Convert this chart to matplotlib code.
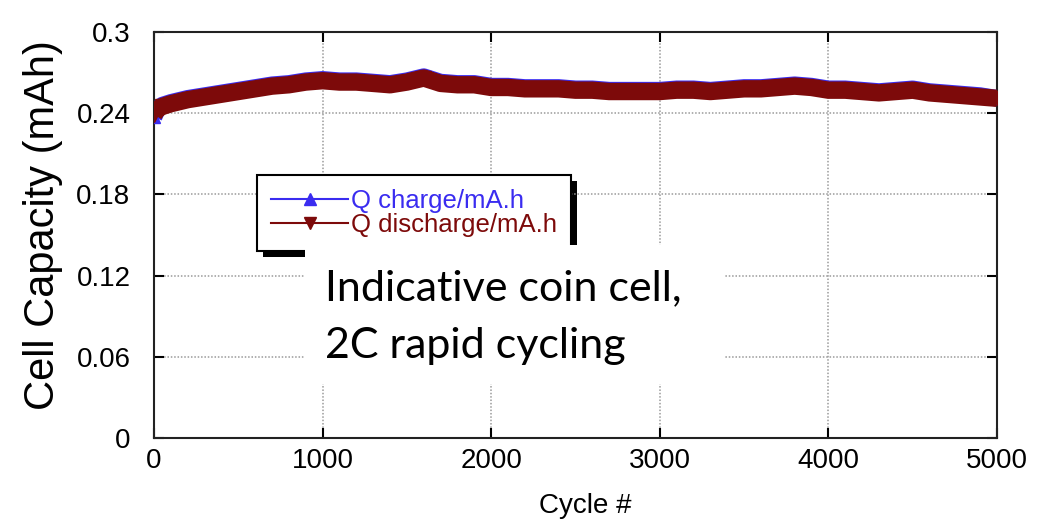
import matplotlib
matplotlib.use("Agg")
import matplotlib.pyplot as plt
from matplotlib.patches import Rectangle
from matplotlib.lines import Line2D

# Cycle-life data read at regular cycle counts
cycles = [0, 20, 50, 100, 200, 300, 400, 500, 600, 700, 800, 900, 1000,
          1100, 1200, 1300, 1400, 1500, 1600, 1700, 1800, 1900, 2000,
          2100, 2200, 2300, 2400, 2500, 2600, 2700, 2800, 2900, 3000,
          3100, 3200, 3300, 3400, 3500, 3600, 3700, 3800, 3900, 4000,
          4100, 4200, 4300, 4400, 4500, 4600, 4700, 4800, 4900, 5000]
q_discharge = [0.239, 0.243, 0.245, 0.247, 0.250, 0.252, 0.254, 0.256, 0.258,
               0.260, 0.261, 0.263, 0.264, 0.263, 0.263, 0.262, 0.261, 0.263,
               0.266, 0.262, 0.261, 0.261, 0.259, 0.259, 0.258, 0.258, 0.258,
               0.257, 0.257, 0.256, 0.256, 0.256, 0.256, 0.257, 0.257, 0.256,
               0.257, 0.258, 0.258, 0.259, 0.260, 0.259, 0.257, 0.257, 0.256,
               0.255, 0.256, 0.257, 0.255, 0.254, 0.253, 0.252, 0.251]
q_charge = [0.237, 0.243, 0.246, 0.248, 0.251, 0.253, 0.255, 0.257, 0.259,
            0.261, 0.262, 0.264, 0.265, 0.264, 0.264, 0.263, 0.262, 0.264,
            0.267, 0.263, 0.262, 0.262, 0.260, 0.260, 0.259, 0.259, 0.259,
            0.258, 0.258, 0.257, 0.257, 0.257, 0.257, 0.258, 0.258, 0.257,
            0.258, 0.259, 0.259, 0.260, 0.261, 0.260, 0.258, 0.258, 0.257,
            0.256, 0.257, 0.258, 0.256, 0.255, 0.254, 0.253, 0.251]

x_ticks = [0, 1000, 2000, 3000, 4000, 5000]
y_ticks = [0, 0.06, 0.12, 0.18, 0.24, 0.30]
y_tick_labels = ["0", "0.06", "0.12", "0.18", "0.24", "0.3"]

blue = "#3a2cf0"
dark_red = "#7d0a0a"

plt.rcParams["font.family"] = ["Liberation Sans", "DejaVu Sans"]

fig = plt.figure(figsize=(10.38, 5.26), dpi=100)
ax = fig.add_axes([154 / 1038, 88 / 526, 843 / 1038, 406 / 526])

ax.plot(cycles, q_charge, color=blue, lw=12, solid_capstyle="butt",
        marker="^", ms=9, mec=blue, mfc=blue, zorder=3)
ax.plot(cycles, q_discharge, color=dark_red, lw=12.5, solid_capstyle="butt",
        marker="v", ms=10, mec=dark_red, mfc=dark_red, zorder=4)

ax.set_xlim(0, 5000)
ax.set_ylim(0, 0.3)
ax.set_xticks(x_ticks)
ax.set_yticks(y_ticks)
ax.set_yticklabels(y_tick_labels)
ax.tick_params(direction="in", length=7, width=1.5, top=True, right=True,
               labelsize=20, colors="black")
ax.tick_params(axis="y", pad=17)
ax.tick_params(axis="x", pad=7)
for s in ax.spines.values():
    s.set_linewidth(1.5)
    s.set_color("#222222")
ax.grid(True, color="#9a9a9a", linestyle=(0, (1, 1.2)), linewidth=1.1)
ax.set_axisbelow(True)

ax.set_xlabel("Cycle #", fontsize=20)
ax.xaxis.set_label_coords(0.512, -0.135)
ax.set_ylabel("Cell Capacity (mAh)", fontsize=30)
ax.yaxis.set_label_coords(-0.108, 0.525)

handles = [
    Line2D([], [], color=blue, lw=1.5, marker="^", ms=9),
    Line2D([], [], color=dark_red, lw=1.5, marker="v", ms=9),
]
leg = ax.legend(handles, ["Q charge/mA.h", "Q discharge/mA.h"],
                loc="upper left", bbox_to_anchor=(103 / 843, (438 - 175) / 406),
                frameon=True, fancybox=False, framealpha=1,
                edgecolor="black", handlelength=3.0, handletextpad=0.12,
                labelspacing=0.0, borderpad=0.55, borderaxespad=0,
                prop={"family": ["Liberation Sans Narrow", "Liberation Sans"],
                      "size": 18.5})
leg.get_frame().set_linewidth(1.5)
for txt, c in zip(leg.get_texts(), [blue, dark_red]):
    txt.set_color(c)
leg.set_zorder(6)

# solid drop shadow behind the legend frame
fig.canvas.draw()
bb = leg.get_window_extent().transformed(fig.transFigure.inverted())
shadow = Rectangle((bb.x0 + 6 / 1038, bb.y0 - 6 / 526), bb.width, bb.height,
                   transform=fig.transFigure, facecolor="black",
                   edgecolor="none", zorder=0.5)
fig.add_artist(shadow)
ax.set_zorder(1)
ax.patch.set_alpha(0)

# annotation panel
panel = Rectangle((305 / 1038, 1 - 384 / 526), 420 / 1038, 139 / 526,
                  transform=fig.transFigure, facecolor="white",
                  edgecolor="none", zorder=5)
fig.add_artist(panel)
fig.text(325 / 1038, 1 - 300 / 526, "Indicative coin cell,",
         fontsize=31, family=["Lato", "DejaVu Sans"], color="black",
         va="baseline", ha="left", zorder=6)
fig.text(325 / 1038, 1 - 358 / 526, "2C rapid cycling",
         fontsize=31, family=["Lato", "DejaVu Sans"], color="black",
         va="baseline", ha="left", zorder=6)

fig.savefig("out.png", dpi=100)
